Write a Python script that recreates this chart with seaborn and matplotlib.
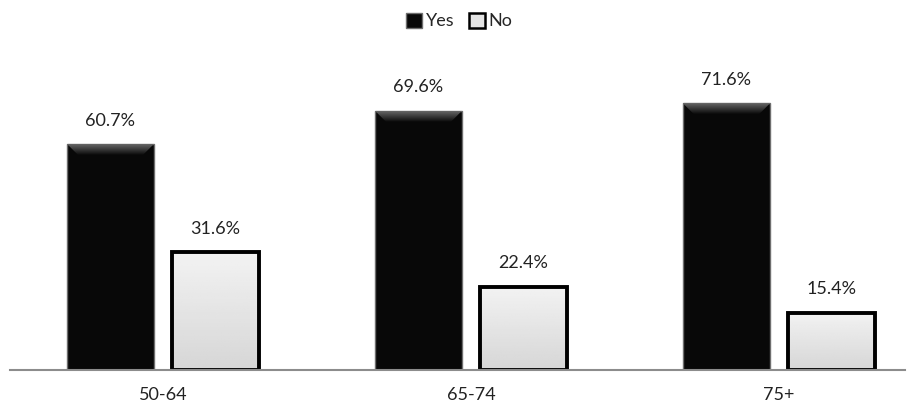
import matplotlib
matplotlib.use("Agg")
import matplotlib.pyplot as plt
import seaborn as sns
import pandas as pd
import numpy as np
from matplotlib.patches import Patch, Polygon

categories = ["50-64", "65-74", "75+"]
yes_values = [60.7, 69.6, 71.6]
no_values = [31.6, 22.4, 15.4]
series_names = ["Yes", "No"]

df = pd.DataFrame({
    "age": categories * 2,
    "answer": [series_names[0]] * 3 + [series_names[1]] * 3,
    "pct": yes_values + no_values,
})

sns.set_theme(style="white")
plt.rcParams["font.family"] = ["Lato", "DejaVu Sans"]

W, H = 918, 416
fig = plt.figure(figsize=(W / 100, H / 100), dpi=100)
ax = fig.add_axes([10 / W, 46 / H, 895 / W, 298 / H])

palette = {"Yes": "#080808", "No": "#e4e4e4"}
sns.barplot(data=df, x="age", y="pct", hue="answer", palette=palette,
            width=0.682, gap=0.171, edgecolor="#111111", linewidth=1.0,
            saturation=1, ax=ax, legend=False)

XLIM = (-153 / 308, 742 / 308)
ax.set_xlim(*XLIM)
ax.set_ylim(0, 80)

# pixel -> data unit conversions for the bevel decoration
px_x = (XLIM[1] - XLIM[0]) / 895
px_y = 80 / 298

yes_bars, no_bars = ax.containers[0], ax.containers[1]

# Dark bars: thin grey outline and a lighter bevel across the top
bevel_grad = np.linspace(0.04, 0.40, 64).reshape(-1, 1)
for p in yes_bars.patches:
    p.set_edgecolor("#6e6e6e")
    p.set_linewidth(1.0)
    x0, w, h = p.get_x(), p.get_width(), p.get_height()
    bh = 11 * px_y
    bw = 11 * px_x
    poly = Polygon([(x0, h), (x0 + w, h), (x0 + w - bw, h - bh), (x0 + bw, h - bh)],
                   closed=True, facecolor="none", edgecolor="none",
                   transform=ax.transData)
    ax.add_patch(poly)
    im = ax.imshow(bevel_grad, cmap="gray", vmin=0, vmax=1, aspect="auto",
                   extent=(x0, x0 + w, h - bh, h), origin="lower",
                   zorder=p.get_zorder() + 0.1, interpolation="bilinear")
    im.set_clip_path(poly)

# Light bars: thick black outline over a soft vertical gradient fill
fill_grad = np.linspace(0.84, 0.95, 64).reshape(-1, 1)
for p in no_bars.patches:
    x0, w, h = p.get_x(), p.get_width(), p.get_height()
    im = ax.imshow(fill_grad, cmap="gray", vmin=0, vmax=1, aspect="auto",
                   extent=(x0, x0 + w, 0, h), zorder=p.get_zorder() - 0.1,
                   interpolation="bilinear", origin="lower")
    p.set_facecolor("none")
    p.set_edgecolor("#000000")
    p.set_linewidth(2.8)

ax.set_xlim(*XLIM)
ax.set_ylim(0, 80)

for c in ax.containers:
    ax.bar_label(c, labels=[f"{v:.1f}%" for v in c.datavalues],
                 padding=11, fontsize=13, color="#222222")

for s in ["top", "right", "left"]:
    ax.spines[s].set_visible(False)
ax.spines["bottom"].set_color("#8c8c8c")
ax.spines["bottom"].set_linewidth(1.5)
ax.spines["bottom"].set_zorder(5)
ax.set_yticks([])
ax.set_xlabel("")
ax.set_ylabel("")
ax.tick_params(axis="x", length=0, pad=12, labelsize=13, labelcolor="#222222")

handles = [Patch(facecolor="#080808", edgecolor="#6e6e6e", linewidth=1.0, label="Yes"),
           Patch(facecolor="#e4e4e4", edgecolor="#000000", linewidth=1.8, label="No")]
fig.legend(handles=handles, loc="upper center", bbox_to_anchor=(0.5, 1.0),
           ncol=2, frameon=False, fontsize=13, handlelength=0.9, handleheight=0.9,
           handletextpad=0.2, columnspacing=0.8, borderaxespad=0.3)

fig.savefig("out.png", dpi=100)
